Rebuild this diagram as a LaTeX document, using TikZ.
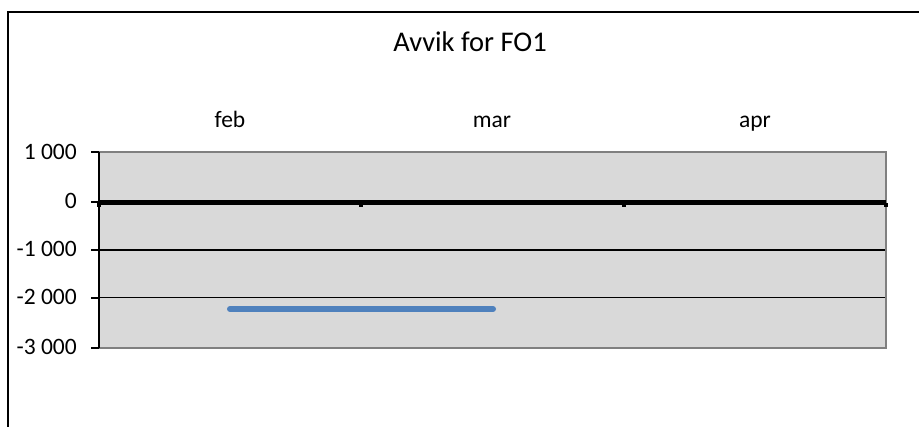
\documentclass[tikz,border=0pt]{standalone}
\usepackage{fontspec}
\setmainfont{Carlito}
\definecolor{plotgray}{HTML}{D9D9D9}
\definecolor{bordergray}{HTML}{808080}
\definecolor{serieblue}{HTML}{4F81BD}
\tikzset{
  ylab/.style={anchor=base east, inner sep=0pt, font=\fontsize{23.5}{23.5}\selectfont},
  xlab/.style={anchor=base, inner sep=0pt, font=\fontsize{23.5}{23.5}\selectfont},
  titlelab/.style={anchor=base, inner sep=0pt, font=\fontsize{28.5}{28.5}\selectfont},
  grid/.style={black, line width=1.2pt},
  tickmark/.style={black, line width=1.2pt},
  zeroline/.style={black, line width=5pt},
  marker/.style={fill=black, draw=none, minimum size=4pt, inner sep=0pt},
  series/.style={serieblue, line width=6pt, line cap=round}
}
\begin{document}
\begin{tikzpicture}[x=1pt, y=-1pt]
\useasboundingbox (0,0) rectangle (919,427);
\fill[white] (0,0) rectangle (919,427);
% outer frame
\draw[black, line width=1.3pt] (8,427) -- (8,12) -- (919,12);
% title
\node[titlelab] (title) at (470,52) {Avvik for FO1};
% plot area
\fill[plotgray] (99,152) rectangle (886,348);
\draw[grid] (99,250) -- (886,250);
\draw[black, line width=1pt] (99,298) -- (886,298);
\draw[bordergray, line width=2pt] (99,152) -- (886,152) -- (886,348) -- (99,348);
% y axis
\draw[black, line width=1.3pt] (99,152) -- (99,348);
\foreach \yy in {152,202,250,298,348} \draw[tickmark] (91,\yy) -- (99,\yy);
% y labels
\node[ylab] (y1) at (77,160) {1 000};
\node[ylab] (y0) at (77,209) {0};
\node[ylab] (ym1) at (77,257) {-1 000};
\node[ylab] (ym2) at (77,305) {-2 000};
\node[ylab] (ym3) at (77,355) {-3 000};
% zero line with markers
\draw[zeroline] (99,203) -- (886,203);
\foreach \xx in {99,361,624,886} \node[marker] at (\xx,205) {};
% month labels
\node[xlab] (feb) at (230,128) {feb};
\node[xlab] (mar) at (492,128) {mar};
\node[xlab] (apr) at (755,128) {apr};
% series
\coordinate (s1) at (230,309);
\coordinate (s2) at (493,309);
\draw[series] (s1) -- (s2);
\end{tikzpicture}
\end{document}
